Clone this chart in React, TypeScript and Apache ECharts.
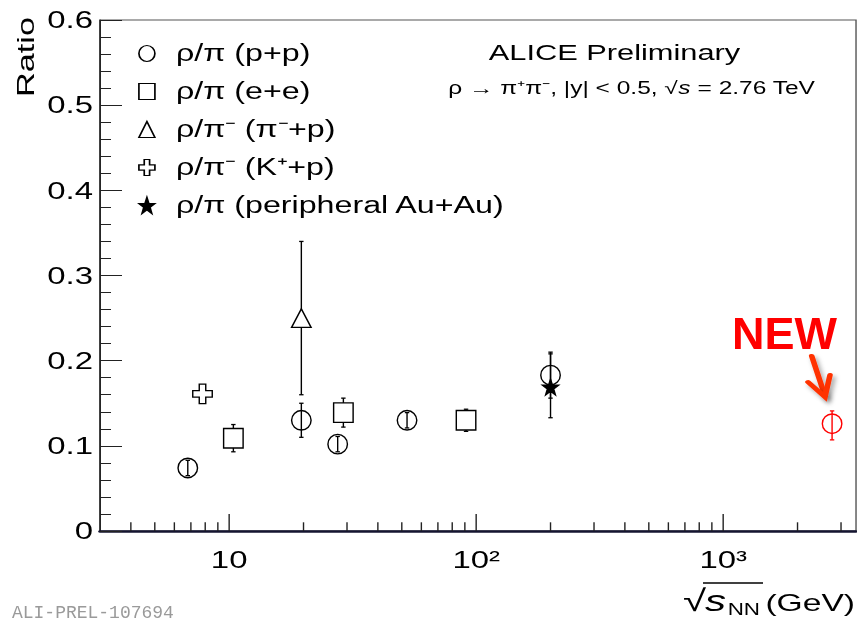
import React, { useEffect, useRef } from 'react';
import * as echarts from 'echarts';

// The reference typesets everything ~1.4x wider than usual; the whole chart is
// drawn in a narrower box and stretched horizontally, markers are pre-compensated.
const W = 612;
const H = 623;
const S = 857 / W;

// ---- data ----
const ppX = [6.8, 19.6, 27.5, 52.5, 200];
const ppY = [0.074, 0.13, 0.102, 0.13, 0.183];
const ppErrLow = [0.009, 0.02, 0.009, 0.009, 0.027];
const ppErrHigh = [0.009, 0.02, 0.009, 0.009, 0.027];

const eeX = [10.4, 29, 91];
const eeY = [0.109, 0.139, 0.13];
const eeErrLow = [0.016, 0.017, 0.013];
const eeErrHigh = [0.016, 0.017, 0.013];

const pimpX = [19.6];
const pimpY = [0.25];
const pimpErrLow = [0.09];
const pimpErrHigh = [0.09];

const kpX = [7.8];
const kpY = [0.161];

const auauX = [200];
const auauY = [0.169];
const auauErrLow = [0.036];
const auauErrHigh = [0.039];

const aliceX = [2760];
const aliceY = [0.126];
const aliceErrLow = [0.019];
const aliceErrHigh = [0.015];

const legendNames = [
  'ρ/π (p+p)',
  'ρ/π (e+e)',
  'ρ/π⁻ (π⁻+p)',
  'ρ/π⁻ (K⁺+p)',
  'ρ/π (peripheral Au+Au)',
];

const xTickValues = [10, 100, 1000];
const xTickLabels = ['10', '10²', '10³'];
const xMinorTicks = [4, 5, 6, 7, 8, 9, 20, 30, 40, 50, 60, 70, 80, 90, 200, 300, 400, 500, 600, 700, 800, 900, 2000, 3000];
const yTickLabels = ['0', '0.1', '0.2', '0.3', '0.4', '0.5', '0.6'];

const FONT = '"Liberation Sans", Arial, Helvetica, sans-serif';
const RING = 'path://M50,0 A50,50 0 1,1 50,100 A50,50 0 1,1 50,0 Z';
const CROSS = 'path://M1,0 L2,0 L2,1 L3,1 L3,2 L2,2 L2,3 L1,3 L1,2 L0,2 L0,1 L1,1 Z';
const STAR = 'path://M50,0 L61.8,35.1 L98.1,35.1 L68.8,56.7 L79.4,91 L50,70 L20.6,91 L31.2,56.7 L1.9,35.1 L38.2,35.1 Z';

function errorSeries(xs: number[], ys: number[], lo: number[], hi: number[], color: string) {
  return {
    type: 'custom',
    z: 2,
    silent: true,
    clip: false,
    data: xs.map((x, i) => [x, ys[i], lo[i], hi[i]]),
    encode: { x: 0, y: 1 },
    renderItem: (_p: any, api: any) => {
      const x = api.value(0);
      const y = api.value(1);
      const l = api.value(2);
      const h = api.value(3);
      const top = api.coord([x, y + h]);
      const bot = api.coord([x, y - l]);
      const cw = 2.2 / S;
      return {
        type: 'group',
        children: [
          { type: 'line', shape: { x1: top[0], y1: top[1], x2: bot[0], y2: bot[1] }, style: { stroke: color, lineWidth: 1 } },
          { type: 'line', shape: { x1: top[0] - cw, y1: top[1], x2: top[0] + cw, y2: top[1] }, style: { stroke: color, lineWidth: 1.3 } },
          { type: 'line', shape: { x1: bot[0] - cw, y1: bot[1], x2: bot[0] + cw, y2: bot[1] }, style: { stroke: color, lineWidth: 1.3 } },
        ],
      };
    },
  };
}

function scatter(name: string, xs: number[], ys: number[], symbol: string, w: number, h: number, fill: string, stroke: string) {
  return {
    type: 'scatter',
    name,
    z: 3,
    silent: true,
    symbol,
    symbolKeepAspect: false,
    symbolSize: [w / S, h],
    itemStyle: { color: fill, borderColor: stroke, borderWidth: 1.2, opacity: 1 },
    data: xs.map((x, i) => [x, ys[i]]),
  };
}

export default function App() {
  const ref = useRef<HTMLDivElement>(null);

  useEffect(() => {
    if (!ref.current) return;
    const chart = echarts.init(ref.current, null, { renderer: 'svg' });
    const clear = 'rgba(0,0,0,0)';
    const legendStyle = (fill: string) => ({ color: fill, borderColor: '#000', borderWidth: 1.2 });

    const option: any = {
      animation: false,
      backgroundColor: '#fff',
      textStyle: { fontFamily: FONT },
      grid: {
        left: 100 / S,
        right: 0.7,
        top: 20,
        bottom: 92,
        show: true,
        borderColor: '#555',
        borderWidth: 1,
        backgroundColor: 'transparent',
      },
      xAxis: {
        type: 'log',
        logBase: 10,
        min: 3,
        max: 3450,
        axisLine: { show: true, lineStyle: { color: '#151530', width: 2.5 } },
        axisTick: { show: false },
        splitLine: { show: false },
        axisLabel: {
          fontSize: 23.5,
          color: '#000',
          margin: 17,
          fontFamily: FONT,
          showMinLabel: false,
          showMaxLabel: false,
          formatter: (v: number) => {
            const i = xTickValues.findIndex((t) => Math.abs(t - v) / t < 1e-6);
            return i >= 0 ? xTickLabels[i] : '';
          },
        },
      },
      yAxis: {
        type: 'value',
        min: 0,
        max: 0.6,
        interval: 0.1,
        axisLine: { show: true, lineStyle: { color: '#111', width: 1 } },
        axisTick: { show: true, inside: true, length: 22 / S, lineStyle: { color: '#222', width: 1 } },
        minorTick: { show: true, splitNumber: 5, length: 11 / S, lineStyle: { color: '#222', width: 1 } },
        splitLine: { show: false },
        axisLabel: {
          fontSize: 23.5,
          color: '#000',
          margin: 5,
          fontFamily: FONT,
          formatter: (_v: number, i: number) => yTickLabels[i] ?? '',
        },
      },
      legend: {
        orient: 'vertical',
        left: 98.6,
        top: 42,
        padding: 0,
        itemWidth: 16 / S,
        itemHeight: 16,
        itemGap: 15,
        symbolKeepAspect: false,
        selectedMode: false,
        textStyle: { fontSize: 23, fontFamily: FONT, color: '#000', lineHeight: 22, padding: [0, 0, 0, 10] },
        data: [
          { name: legendNames[0], itemStyle: legendStyle(clear) },
          { name: legendNames[1], itemStyle: legendStyle(clear) },
          { name: legendNames[2], itemStyle: legendStyle(clear) },
          { name: legendNames[3], itemStyle: legendStyle(clear) },
          { name: legendNames[4], itemStyle: legendStyle('#000') },
        ],
      },
      series: [
        // x-axis ticks (major + minor), placed by the log axis
        {
          type: 'custom',
          z: 5,
          silent: true,
          clip: false,
          data: [...xTickValues.map((v) => [v, 0, 1]), ...xMinorTicks.map((v) => [v, 0, 0])],
          encode: { x: 0, y: 1 },
          renderItem: (_p: any, api: any) => {
            const c = api.coord([api.value(0), 0]);
            const len = api.value(2) ? 17 : 8.7;
            return { type: 'line', shape: { x1: c[0], y1: c[1], x2: c[0], y2: c[1] - len }, style: { stroke: '#222', lineWidth: 1 } };
          },
        },
        errorSeries(ppX, ppY, ppErrLow, ppErrHigh, '#000'),
        errorSeries(eeX, eeY, eeErrLow, eeErrHigh, '#000'),
        errorSeries(pimpX, pimpY, pimpErrLow, pimpErrHigh, '#000'),
        errorSeries(auauX, auauY, auauErrLow, auauErrHigh, '#000'),
        errorSeries(aliceX, aliceY, aliceErrLow, aliceErrHigh, '#ff0000'),
        scatter(legendNames[0], ppX, ppY, RING, 19.5, 19.5, clear, '#000'),
        scatter(legendNames[1], eeX, eeY, 'rect', 19.5, 19.5, '#fff', '#000'),
        scatter(legendNames[2], pimpX, pimpY, 'triangle', 19.5, 18.5, '#fff', '#000'),
        scatter(legendNames[3], kpX, kpY, CROSS, 19.5, 19.5, '#fff', '#000'),
        scatter(legendNames[4], auauX, auauY, STAR, 16, 15.5, '#000', '#000'),
        scatter('ALICE', aliceX, aliceY, RING, 19.5, 19.5, clear, '#ff0000'),
      ],
      graphic: [
        {
          type: 'text',
          x: 614.5 / S,
          y: 53,
          style: { text: 'ALICE Preliminary', fontSize: 22, fontFamily: FONT, fill: '#000', textAlign: 'center', textVerticalAlign: 'middle' },
        },
        {
          type: 'text',
          x: 631.5 / S,
          y: 88,
          style: {
            text: '{n|ρ → π⁺π⁻, |y| < 0.5, √}{i|s}{n| = 2.76 TeV}',
            textAlign: 'center',
            textVerticalAlign: 'middle',
            fill: '#000',
            rich: {
              n: { fontSize: 17.5, fontFamily: FONT, fill: '#000' },
              i: { fontSize: 17.5, fontFamily: FONT, fontStyle: 'italic', fill: '#000' },
            },
          },
        },
        {
          type: 'text',
          x: 25 / S,
          y: 57,
          rotation: Math.PI / 2,
          scaleX: S,
          scaleY: 1 / S,
          style: { text: 'Ratio', fontSize: 24.5, fontFamily: FONT, fill: '#000', textAlign: 'center', textVerticalAlign: 'middle' },
        },
        // x-axis title  √s_NN (GeV)
        {
          type: 'text',
          x: 855 / S,
          y: 603,
          style: { text: '(GeV)', fontSize: 24, fontFamily: FONT, fill: '#000', textAlign: 'right', textVerticalAlign: 'middle' },
        },
        {
          type: 'text',
          x: 760 / S,
          y: 609,
          style: { text: 'NN', fontSize: 16, fontFamily: FONT, fill: '#000', textAlign: 'right', textVerticalAlign: 'middle' },
        },
        {
          type: 'text',
          x: 726 / S,
          y: 601,
          style: { text: 's', fontSize: 30, fontStyle: 'italic', fontFamily: FONT, fill: '#000', textAlign: 'right', textVerticalAlign: 'middle' },
        },
        {
          type: 'text',
          x: 706 / S,
          y: 601,
          style: { text: '√', fontSize: 30, fontFamily: FONT, fill: '#000', textAlign: 'right', textVerticalAlign: 'middle' },
        },
        {
          type: 'line',
          shape: { x1: 703 / S, y1: 583, x2: 763 / S, y2: 583 },
          style: { stroke: '#000', lineWidth: 1.3 },
        },
        // annotation
        {
          type: 'text',
          x: 784.5 / S,
          y: 333,
          scaleX: 1 / S,
          style: { text: 'NEW', fontSize: 45, fontWeight: 'bold', fontFamily: FONT, fill: '#ff0000', textAlign: 'center', textVerticalAlign: 'middle' },
        },
        {
          type: 'polyline',
          shape: { points: [[811.7 / S, 356], [825 / S, 396]] },
          style: { stroke: '#ff3300', lineWidth: 4, lineCap: 'round', shadowBlur: 4, shadowColor: 'rgba(0,0,0,0.35)', shadowOffsetX: 2, shadowOffsetY: 3 },
        },
        {
          type: 'polyline',
          shape: { points: [[808 / S, 382], [825 / S, 397], [830 / S, 375]] },
          style: { stroke: '#ff3300', lineWidth: 4, lineJoin: 'miter', lineCap: 'round', fill: 'none', shadowBlur: 4, shadowColor: 'rgba(0,0,0,0.35)', shadowOffsetX: 2, shadowOffsetY: 3 },
        },
        {
          type: 'text',
          x: 12 / S,
          y: 622,
          scaleX: 1 / S,
          style: { text: 'ALI-PREL-107694', fontSize: 18, fontFamily: '"Liberation Mono", "DejaVu Sans Mono", monospace', fill: '#9a9a9a', textAlign: 'left', textVerticalAlign: 'bottom' },
        },
      ],
    };

    chart.setOption(option);
    return () => chart.dispose();
  }, []);

  return (
    <div
      ref={ref}
      style={{
        position: 'absolute',
        left: 0,
        top: 0,
        width: W,
        height: H,
        transform: `scaleX(${S})`,
        transformOrigin: '0 0',
        background: '#fff',
      }}
    />
  );
}
